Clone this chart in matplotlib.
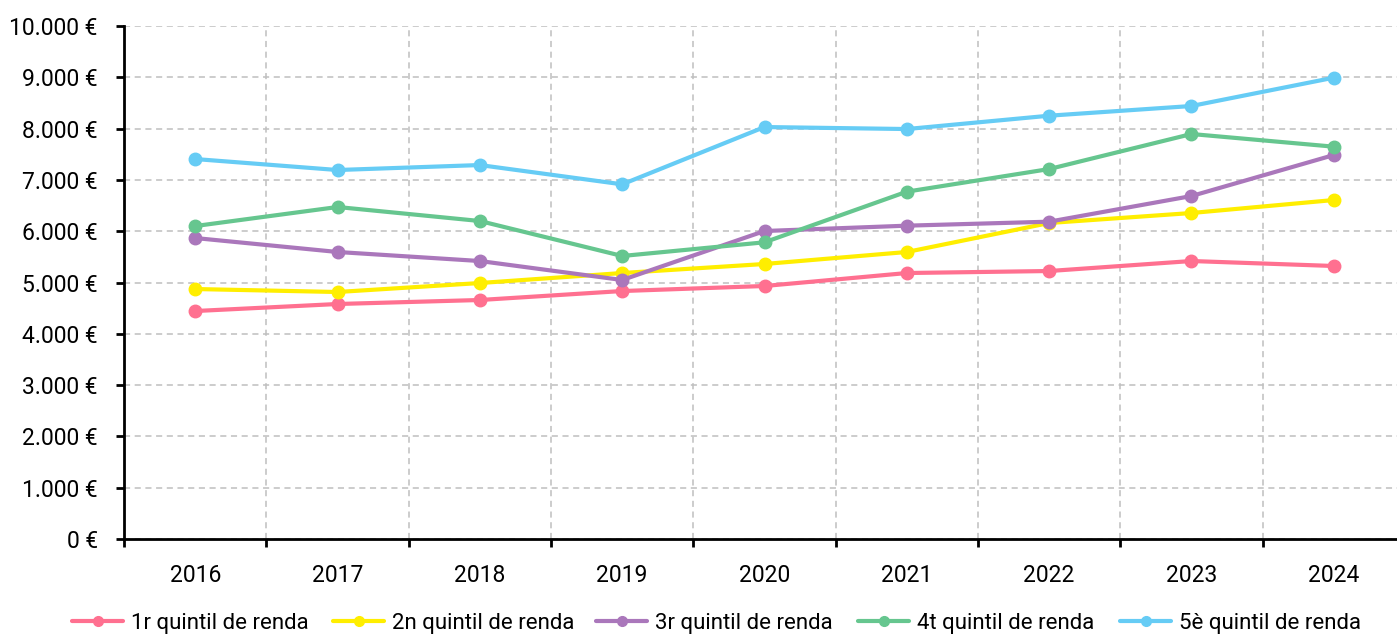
import matplotlib
matplotlib.use("Agg")
import matplotlib.pyplot as plt
from matplotlib.ticker import FuncFormatter, FixedLocator
from matplotlib.lines import Line2D

years = ["2016", "2017", "2018", "2019", "2020", "2021", "2022", "2023", "2024"]
q1 = [4444, 4581, 4659, 4834, 4932, 5185, 5224, 5419, 5322]
q2 = [4873, 4815, 4990, 5185, 5361, 5595, 6160, 6355, 6608]
q3 = [5867, 5595, 5419, 5049, 6004, 6108, 6186, 6686, 7485]
q4 = [6101, 6472, 6199, 5517, 5784, 6771, 7212, 7895, 7648]
q5 = [7407, 7193, 7290, 6914, 8031, 7992, 8252, 8441, 8993]
labels = ["1r quintil de renda", "2n quintil de renda", "3r quintil de renda",
          "4t quintil de renda", "5è quintil de renda"]
colors = ["#FF7090", "#FFEE00", "#AA77BB", "#66C68F", "#66CCF5"]
series = [q1, q2, q3, q4, q5]

plt.rcParams['font.family'] = ['Roboto', 'DejaVu Sans']

fig = plt.figure(figsize=(13.97, 6.35), dpi=100)
ax = fig.add_axes([0.0888, 0.1512, 1.0057 - 0.0888, 0.959 - 0.1512])

x = list(range(len(years)))
handles = []
for vals, lab, col in zip(series, labels, colors):
    h, = ax.plot(x, vals, color=col, lw=3, marker='o', markersize=9, label=lab,
                 solid_capstyle='round', zorder=3)
    handles.append(h)

ax.set_xlim(-0.5, len(years) - 0.5)
ax.set_ylim(0, 10000)
ax.set_yticks(range(0, 10001, 1000))
ax.yaxis.set_major_formatter(FuncFormatter(lambda v, p: f"{int(v):,}".replace(",", ".") + " €"))
ax.set_xticks(x)
ax.set_xticklabels(years)
ax.xaxis.set_minor_locator(FixedLocator([i - 0.5 for i in range(len(years) + 1)]))

ax.tick_params(axis='x', which='major', length=0, pad=18, labelsize=16.5)
ax.tick_params(axis='x', which='minor', length=6, width=2, color='black')
ax.tick_params(axis='y', which='major', length=6, width=2, pad=13, labelsize=16.5)

ax.grid(True, axis='y', which='major', color='#BFBFBF', linestyle=(0, (4, 3)), lw=1.1, zorder=0)
ax.grid(True, axis='x', which='minor', color='#BFBFBF', linestyle=(0, (4, 3)), lw=1.1, zorder=0)
ax.grid(False, axis='x', which='major')

for s in ['top', 'right']:
    ax.spines[s].set_visible(False)
for s in ['left', 'bottom']:
    ax.spines[s].set_linewidth(2)
    ax.spines[s].set_color('black')

legend_x = [72, 333, 596, 858, 1120]
for h, lab, lx in zip(handles, labels, legend_x):
    proxy = Line2D([], [], color=h.get_color(), lw=3, marker='o', markersize=7,
                   solid_capstyle='round')
    fig.legend(handles=[proxy], labels=[lab], loc='center left',
               bbox_to_anchor=(lx / 1397, 1 - 623 / 635), frameon=False,
               borderpad=0, borderaxespad=0, handlelength=2.3, handletextpad=0.35,
               prop={'size': 16})

fig.savefig("out.png", dpi=100)
